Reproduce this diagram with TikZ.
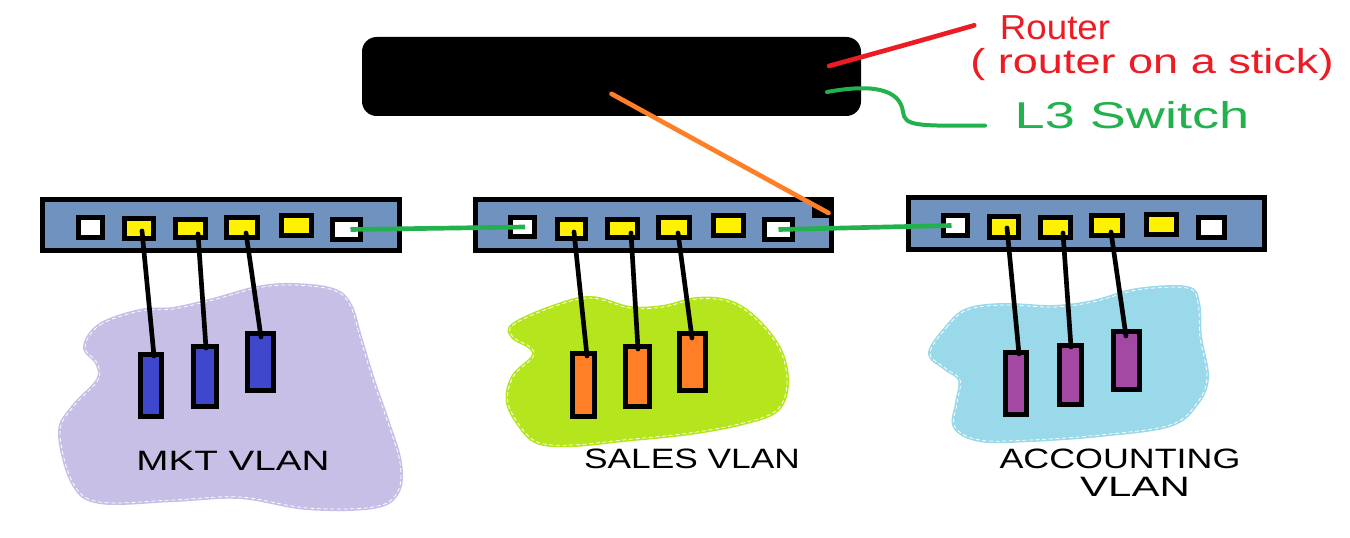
\documentclass[tikz,border=0pt]{standalone}
\usepackage{fontspec}
\setmainfont{Liberation Sans}
\usepackage{graphicx}
\definecolor{swblue}{RGB}{112,146,190}
\definecolor{pyellow}{RGB}{255,242,0}
\definecolor{hblue}{RGB}{63,72,204}
\definecolor{horange}{RGB}{255,127,39}
\definecolor{hpurple}{RGB}{163,73,164}
\definecolor{blavender}{RGB}{200,191,231}
\definecolor{blime}{RGB}{181,230,29}
\definecolor{bcyan}{RGB}{153,217,234}
\definecolor{lgreen}{RGB}{34,177,76}
\definecolor{lred}{RGB}{237,28,36}
\newcommand\mybox[6]{\node[#1, minimum width={(#5-#3-4.7)*0.75pt}, minimum height={(#6-#4-4.7)*0.75pt}] (#2) at ({(#3+#5)/2},{(#4+#6)/2}) {};}
\begin{document}
\begin{tikzpicture}[x=0.75pt,y=-0.75pt,
  boxbase/.style={draw=black, line width=3.5pt, inner sep=0pt, outer sep=0pt},
  switchbox/.style={boxbase, fill=swblue},
  wport/.style={boxbase, fill=white},
  yport/.style={boxbase, fill=pyellow},
  hostb/.style={boxbase, fill=hblue},
  hosto/.style={boxbase, fill=horange},
  hostp/.style={boxbase, fill=hpurple},
  wire/.style={draw=black, line width=3.5pt, line cap=round},
  trunk/.style={draw=lgreen, line width=3.5pt},
  blobfill/.style={fill=#1, draw=#1, line width=3pt, line join=round},
  blobedge/.style={draw=white, line width=0.6pt, densely dashed},
  hand/.style={inner sep=0pt, text=black, font=\fontsize{21}{21}\selectfont},
  note/.style={inner sep=0pt, font=\fontsize{26}{26}\selectfont}
]
\useasboundingbox (0,0) rectangle (1350,538);
\fill[white] (0,0) rectangle (1350,538);

% blobs
\path[blobfill=blavender] plot[smooth cycle, tension=0.6] coordinates {(85,347) (100,325) (140,311) (173,309) (213,300) (257,288) (293,285) (333,290) (350,305) (360,337) (373,380) (387,420) (400,463) (397,493) (373,507) (307,508) (240,497) (173,500) (100,502) (73,483) (60,433) (73,407) (98,380) (97,363)};
\path[blobedge] plot[smooth cycle, tension=0.6] coordinates {(85,347) (100,325) (140,311) (173,309) (213,300) (257,288) (293,285) (333,290) (350,305) (360,337) (373,380) (387,420) (400,463) (397,493) (373,507) (307,508) (240,497) (173,500) (100,502) (73,483) (60,433) (73,407) (98,380) (97,363)};

\path[blobfill=blime] plot[smooth cycle, tension=0.6] coordinates {(513,325) (550,308) (590,298) (630,308) (663,307) (697,299) (730,302) (757,320) (780,350) (787,383) (777,410) (743,423) (690,433) (623,440) (573,445) (540,443) (523,430) (508,403) (513,377) (533,357) (530,347) (513,337)};
\path[blobedge] plot[smooth cycle, tension=0.6] coordinates {(513,325) (550,308) (590,298) (630,308) (663,307) (697,299) (730,302) (757,320) (780,350) (787,383) (777,410) (743,423) (690,433) (623,440) (573,445) (540,443) (523,430) (508,403) (513,377) (533,357) (530,347) (513,337)};

\path[blobfill=bcyan] plot[smooth cycle, tension=0.6] coordinates {(930,353) (947,327) (967,310) (1003,305) (1053,307) (1093,302) (1137,290) (1187,288) (1198,303) (1200,337) (1207,377) (1197,403) (1170,425) (1100,435) (1030,440) (980,440) (955,427) (957,403) (960,380) (945,368)};
\path[blobedge] plot[smooth cycle, tension=0.6] coordinates {(930,353) (947,327) (967,310) (1003,305) (1053,307) (1093,302) (1137,290) (1187,288) (1198,303) (1200,337) (1207,377) (1197,403) (1170,425) (1100,435) (1030,440) (980,440) (955,427) (957,403) (960,380) (945,368)};

% router / L3 switch
\node[fill=black, rounded corners=11pt, inner sep=0pt, minimum width=499*0.75pt, minimum height=79*0.75pt] (router) at (611.5,76.5) {};

% switches
\mybox{switchbox}{sw1}{40}{197}{402}{253}
\mybox{switchbox}{sw2}{473}{197}{834}{253}
\mybox{switchbox}{sw3}{906}{195}{1267}{252}
\node[fill=black, inner sep=0pt, minimum width=21*0.75pt, minimum height=21*0.75pt] (sq) at (822.5,207.5) {};

% ports switch 1
\mybox{wport}{s1p1}{76}{215}{105}{240}
\mybox{yport}{s1p2}{122}{216}{156}{241}
\mybox{yport}{s1p3}{173}{217}{208}{240}
\mybox{yport}{s1p4}{224}{215}{260}{240}
\mybox{yport}{s1p5}{279}{213}{314}{238}
\mybox{wport}{s1p6}{330}{217}{363}{242}
% ports switch 2
\mybox{wport}{s2p1}{508}{215}{537}{239}
\mybox{yport}{s2p2}{555}{217}{588}{241}
\mybox{yport}{s2p3}{605}{217}{640}{240}
\mybox{yport}{s2p4}{656}{215}{692}{240}
\mybox{yport}{s2p5}{711}{213}{746}{238}
\mybox{wport}{s2p6}{762}{217}{795}{242}
% ports switch 3
\mybox{wport}{s3p1}{941}{213}{970}{238}
\mybox{yport}{s3p2}{987}{214}{1021}{240}
\mybox{yport}{s3p3}{1038}{215}{1073}{240}
\mybox{yport}{s3p4}{1089}{213}{1125}{238}
\mybox{yport}{s3p5}{1144}{212}{1179}{237}
\mybox{wport}{s3p6}{1196}{215}{1227}{240}

% hosts
\mybox{hostb}{h11}{138}{352}{164}{419}
\mybox{hostb}{h12}{191}{344}{219}{409}
\mybox{hostb}{h13}{245}{331}{276}{393}
\mybox{hosto}{h21}{570}{351}{597}{419}
\mybox{hosto}{h22}{623}{344}{652}{409}
\mybox{hosto}{h23}{677}{331}{708}{393}
\mybox{hostp}{h31}{1003}{350}{1029}{417}
\mybox{hostp}{h32}{1057}{343}{1084}{407}
\mybox{hostp}{h33}{1111}{329}{1142}{392}

% access wires
\draw[wire] ([shift={(3,2.5)}]s1p2.center) -- ([shift={(3,-29.5)}]h11.center);
\draw[wire] ([shift={(7.5,5.5)}]s1p3.center) -- ([shift={(1,-28.5)}]h12.center);
\draw[wire] ([shift={(4,5.5)}]s1p4.center) -- ([shift={(0.5,-25)}]h13.center);
\draw[wire] ([shift={(2.5,3)}]s2p2.center) -- ([shift={(3.5,-29)}]h21.center);
\draw[wire] ([shift={(8.5,4.5)}]s2p3.center) -- ([shift={(0.5,-27.5)}]h22.center);
\draw[wire] ([shift={(4,5.5)}]s2p4.center) -- ([shift={(-0.5,-24)}]h23.center);
\draw[wire] ([shift={(3,1)}]s3p2.center) -- ([shift={(3,-29.5)}]h31.center);
\draw[wire] ([shift={(7.5,5.5)}]s3p3.center) -- ([shift={(0.5,-28)}]h32.center);
\draw[wire] ([shift={(4,6.5)}]s3p4.center) -- ([shift={(-0.5,-24.5)}]h33.center);

% trunks
\draw[trunk] ([xshift=3pt]s1p6.center) -- ([xshift=2pt]s2p1.center);
\draw[trunk] (s2p6.center) -- ([xshift=-3pt]s3p1.center);

% uplink
\draw[draw=horange, line width=3.5pt, line cap=round] ([yshift=-13pt]router.center) -- ([shift={(6,5.5)}]sq.center);

% labels on the right
\node[note, text=lred] (lblrouter) at (1055,28) {\scalebox{1.06}[1]{Router}};
\node[note, text=lred] (lblstick) at (1152,65) {\scalebox{1.3}[1]{( router on a stick)}};
\node[note, text=lgreen, font=\fontsize{28}{28}\selectfont] (lblsw) at (1132,115) {\scalebox{1.45}[1]{L3 Switch}};
\coordinate (rtip) at (829,66);
\coordinate (gtip) at (827,92);
\draw[lred, line width=3.5pt, line cap=round] (rtip) .. controls (880,52) and (930,38) .. ([xshift=-19pt,yshift=2pt]lblrouter.west);
\draw[lgreen, line width=3pt, line cap=round] (gtip) .. controls (870,84) and (900,88) .. (903,112) .. controls (905,126) and (915,126) .. ([xshift=-22pt,yshift=-8pt]lblsw.west);

% VLAN labels
\node[hand] (lmkt) at (233,461) {\scalebox{1.38}[1]{MKT VLAN}};
\node[hand] (lsales) at (692,459) {\scalebox{1.26}[1]{SALES VLAN}};
\node[hand] (lacc1) at (1120,459) {\scalebox{1.28}[1]{ACCOUNTING}};
\node[hand] (lacc2) at (1135,487) {\scalebox{1.5}[1]{VLAN}};
\end{tikzpicture}
\end{document}
